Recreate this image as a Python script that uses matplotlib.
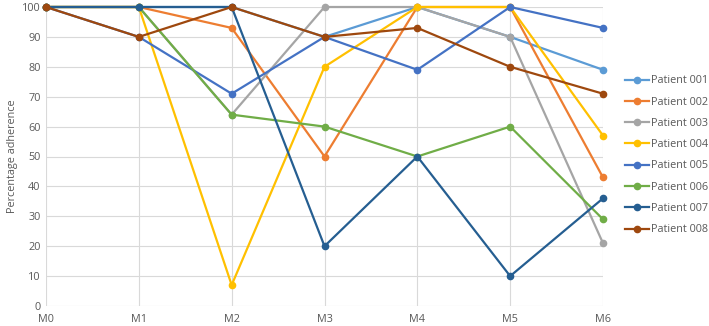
import matplotlib.pyplot as plt

months = ['M0', 'M1', 'M2', 'M3', 'M4', 'M5', 'M6']
patient_names = ['Patient 001', 'Patient 002', 'Patient 003', 'Patient 004',
                 'Patient 005', 'Patient 006', 'Patient 007', 'Patient 008']
p001 = [100, 100, 100, 90, 100, 90, 79]
p002 = [100, 100, 93, 50, 100, 100, 43]
p003 = [100, 100, 64, 100, 100, 90, 21]
p004 = [100, 100, 7, 80, 100, 100, 57]
p005 = [100, 90, 71, 90, 79, 100, 93]
p006 = [100, 100, 64, 60, 50, 60, 29]
p007 = [100, 100, 100, 20, 50, 10, 36]
p008 = [100, 90, 100, 90, 93, 80, 71]
series = [p001, p002, p003, p004, p005, p006, p007, p008]
colors = ['#5B9BD5', '#ED7D31', '#A5A5A5', '#FFC000',
          '#4472C4', '#70AD47', '#255E91', '#9E480E']

plt.rcParams['font.family'] = ['Open Sans', 'DejaVu Sans']

fig = plt.figure(figsize=(7.09, 3.26), dpi=100)
ax = fig.add_axes([46 / 709, 20 / 326, 557 / 709, 299 / 326])

x = list(range(len(months)))
for name, vals, c in zip(patient_names, series, colors):
    ax.plot(x, vals, color=c, lw=1.6, marker='o', ms=4.5, label=name,
            clip_on=False, zorder=3)

ax.set_xlim(0, 6)
ax.set_ylim(0, 100)
ax.set_xticks(x)
ax.set_xticklabels(months)
ax.set_yticks(range(0, 101, 10))
ax.grid(True, color='#D9D9D9', lw=0.8)
ax.set_axisbelow(True)
for s in ax.spines.values():
    s.set_visible(False)
ax.tick_params(length=0, labelsize=7.8, colors='#595959')
ax.tick_params(axis='x', pad=6)
ax.tick_params(axis='y', pad=4)
ax.set_ylabel('Percentage adherence', fontsize=7.8, color='#595959', labelpad=3)

fig.legend(loc='upper left', bbox_to_anchor=(621 / 709, 1 - 71 / 326),
           frameon=False, fontsize=7.8, labelspacing=0.95, handlelength=2.2,
           handletextpad=0.2, borderaxespad=0, labelcolor='#595959')

fig.savefig('out.png', dpi=100)
